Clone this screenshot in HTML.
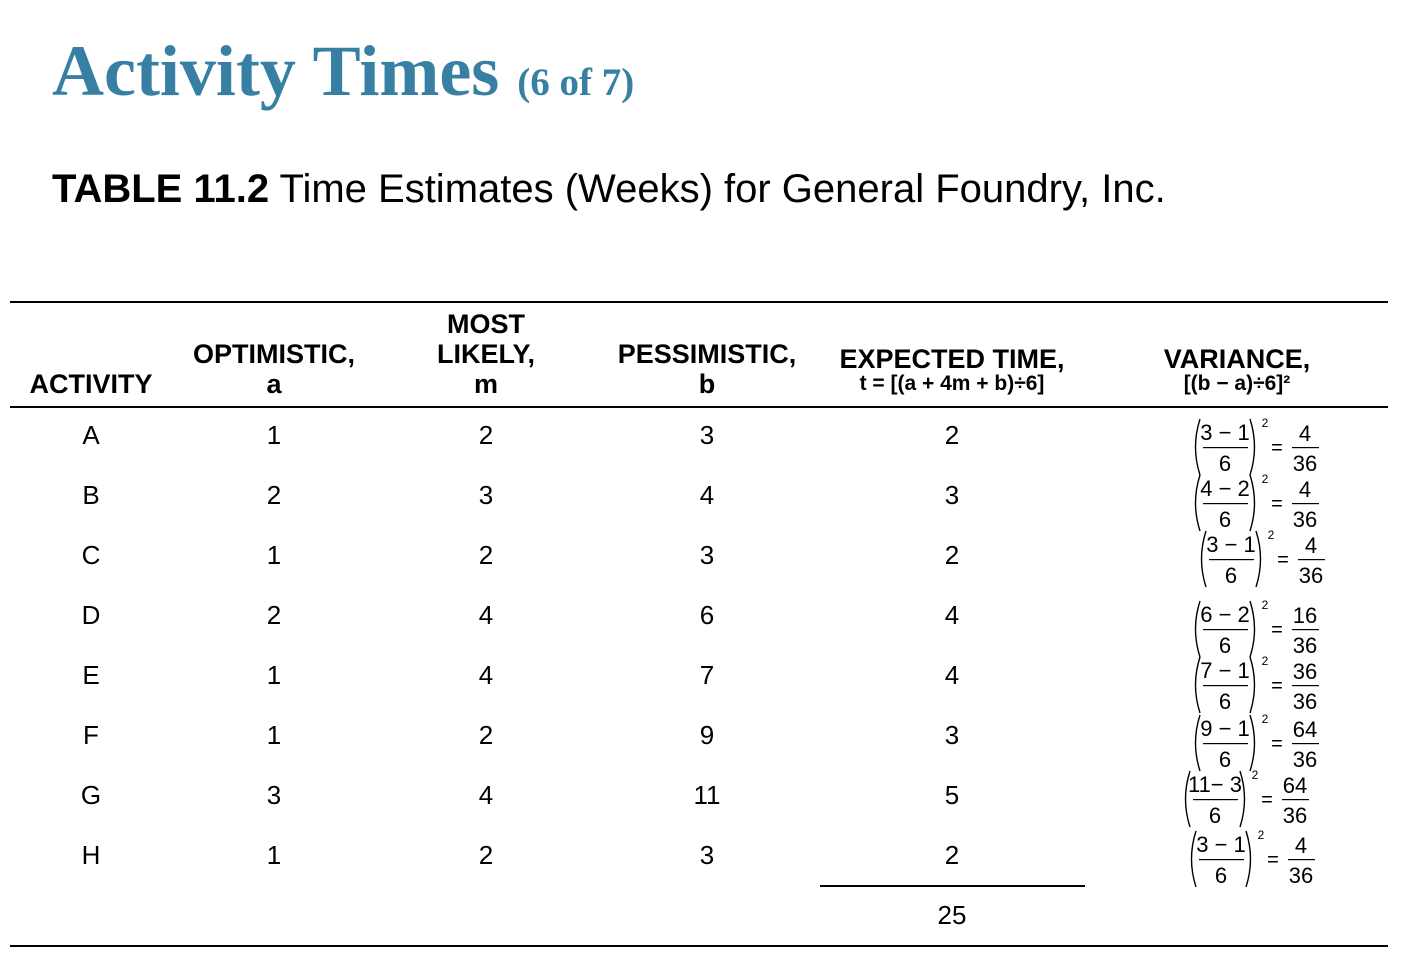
<!DOCTYPE html>
<html><head><meta charset="utf-8"><style>
body{margin:0;width:1408px;height:980px;background:#fff;position:relative;overflow:hidden;font-family:"Liberation Sans",sans-serif;color:#000}
.a{position:absolute;white-space:nowrap}
.t{left:52px;top:30px;font-family:"Liberation Serif",serif;font-weight:bold;font-size:72px;color:#3880a3}
.t span{font-size:39px}
.s{left:52px;top:167px;font-size:40px}
.h{font-weight:bold;font-size:27px;text-align:center;line-height:30px}
.hs{font-size:21px;line-height:20px;display:block}
.c{font-size:26px;text-align:center;width:100px;margin-left:-50px}
.ln{position:absolute;background:#000}
</style></head><body>
<div class="a t">Activity Times <span>(6 of 7)</span></div>
<div class="a s"><b>TABLE 11.2</b> Time Estimates (Weeks) for General Foundry, Inc.</div>
<div class="ln" style="left:10px;top:301px;width:1378px;height:2px"></div>
<div class="ln" style="left:10px;top:406px;width:1378px;height:2px"></div>
<div class="ln" style="left:10px;top:945px;width:1378px;height:2px"></div>
<div class="ln" style="left:820px;top:885px;width:265px;height:2px"></div>

<div class="a h" style="left:11px;width:160px;top:369px">ACTIVITY</div>
<div class="a h" style="left:174px;width:200px;top:339px">OPTIMISTIC,<br>a</div>
<div class="a h" style="left:386px;width:200px;top:309px">MOST<br>LIKELY,<br>m</div>
<div class="a h" style="left:597px;width:220px;top:339px">PESSIMISTIC,<br>b</div>
<div class="a h" style="left:812px;width:280px;top:344px">EXPECTED TIME,<span class="hs">t = [(a + 4m + b)÷6]</span></div>
<div class="a h" style="left:1117px;width:240px;top:344px">VARIANCE,<span class="hs">[(b − a)÷6]²</span></div>

<div class="a c" style="left:91px;top:420px">A</div><div class="a c" style="left:274px;top:420px">1</div><div class="a c" style="left:486px;top:420px">2</div><div class="a c" style="left:707px;top:420px">3</div><div class="a c" style="left:952px;top:420px">2</div>
<div class="a c" style="left:91px;top:480px">B</div><div class="a c" style="left:274px;top:480px">2</div><div class="a c" style="left:486px;top:480px">3</div><div class="a c" style="left:707px;top:480px">4</div><div class="a c" style="left:952px;top:480px">3</div>
<div class="a c" style="left:91px;top:540px">C</div><div class="a c" style="left:274px;top:540px">1</div><div class="a c" style="left:486px;top:540px">2</div><div class="a c" style="left:707px;top:540px">3</div><div class="a c" style="left:952px;top:540px">2</div>
<div class="a c" style="left:91px;top:600px">D</div><div class="a c" style="left:274px;top:600px">2</div><div class="a c" style="left:486px;top:600px">4</div><div class="a c" style="left:707px;top:600px">6</div><div class="a c" style="left:952px;top:600px">4</div>
<div class="a c" style="left:91px;top:660px">E</div><div class="a c" style="left:274px;top:660px">1</div><div class="a c" style="left:486px;top:660px">4</div><div class="a c" style="left:707px;top:660px">7</div><div class="a c" style="left:952px;top:660px">4</div>
<div class="a c" style="left:91px;top:720px">F</div><div class="a c" style="left:274px;top:720px">1</div><div class="a c" style="left:486px;top:720px">2</div><div class="a c" style="left:707px;top:720px">9</div><div class="a c" style="left:952px;top:720px">3</div>
<div class="a c" style="left:91px;top:780px">G</div><div class="a c" style="left:274px;top:780px">3</div><div class="a c" style="left:486px;top:780px">4</div><div class="a c" style="left:707px;top:780px">11</div><div class="a c" style="left:952px;top:780px">5</div>
<div class="a c" style="left:91px;top:840px">H</div><div class="a c" style="left:274px;top:840px">1</div><div class="a c" style="left:486px;top:840px">2</div><div class="a c" style="left:707px;top:840px">3</div><div class="a c" style="left:952px;top:840px">2</div>
<div class="a c" style="left:952px;top:900px">25</div>

<svg class="a" style="left:0;top:0" width="1408" height="980" font-family="Liberation Sans, sans-serif">
<g id="rows" fill="#000" stroke="none" font-size="22" text-anchor="middle"></g>
</svg>
<script>
var R=[[1192,447,"3 − 1","4"],[1192,503,"4 − 2","4"],[1198,559,"3 − 1","4"],[1192,629,"6 − 2","16"],[1192,685,"7 − 1","36"],[1192,743,"9 − 1","64"],[1182,799,"11− 3","64"],[1188,859,"3 − 1","4"]];
var s="";
R.forEach(function(r){var L=r[0],c=r[1];
s+='<path d="M'+(L+8)+' '+(c-28)+' Q'+(L-1)+' '+c+' '+(L+8)+' '+(c+28)+'" stroke="#000" stroke-width="1.4" fill="none"/>';
s+='<text x="'+(L+33)+'" y="'+(c-7)+'">'+r[2]+'</text>';
s+='<rect x="'+(L+11)+'" y="'+c+'" width="45" height="1.2"/>';
s+='<text x="'+(L+33)+'" y="'+(c+24)+'">6</text>';
s+='<path d="M'+(L+58)+' '+(c-28)+' Q'+(L+67)+' '+c+' '+(L+58)+' '+(c+28)+'" stroke="#000" stroke-width="1.4" fill="none"/>';
s+='<text x="'+(L+73)+'" y="'+(c-20)+'" font-size="12">2</text>';
s+='<text x="'+(L+85)+'" y="'+(c+7)+'" font-size="20">=</text>';
s+='<text x="'+(L+113)+'" y="'+(c-6)+'">'+r[3]+'</text>';
s+='<rect x="'+(L+100)+'" y="'+c+'" width="27" height="1.2"/>';
s+='<text x="'+(L+113)+'" y="'+(c+24)+'">36</text>';});
document.getElementById("rows").innerHTML=s;
</script>
</body></html>
